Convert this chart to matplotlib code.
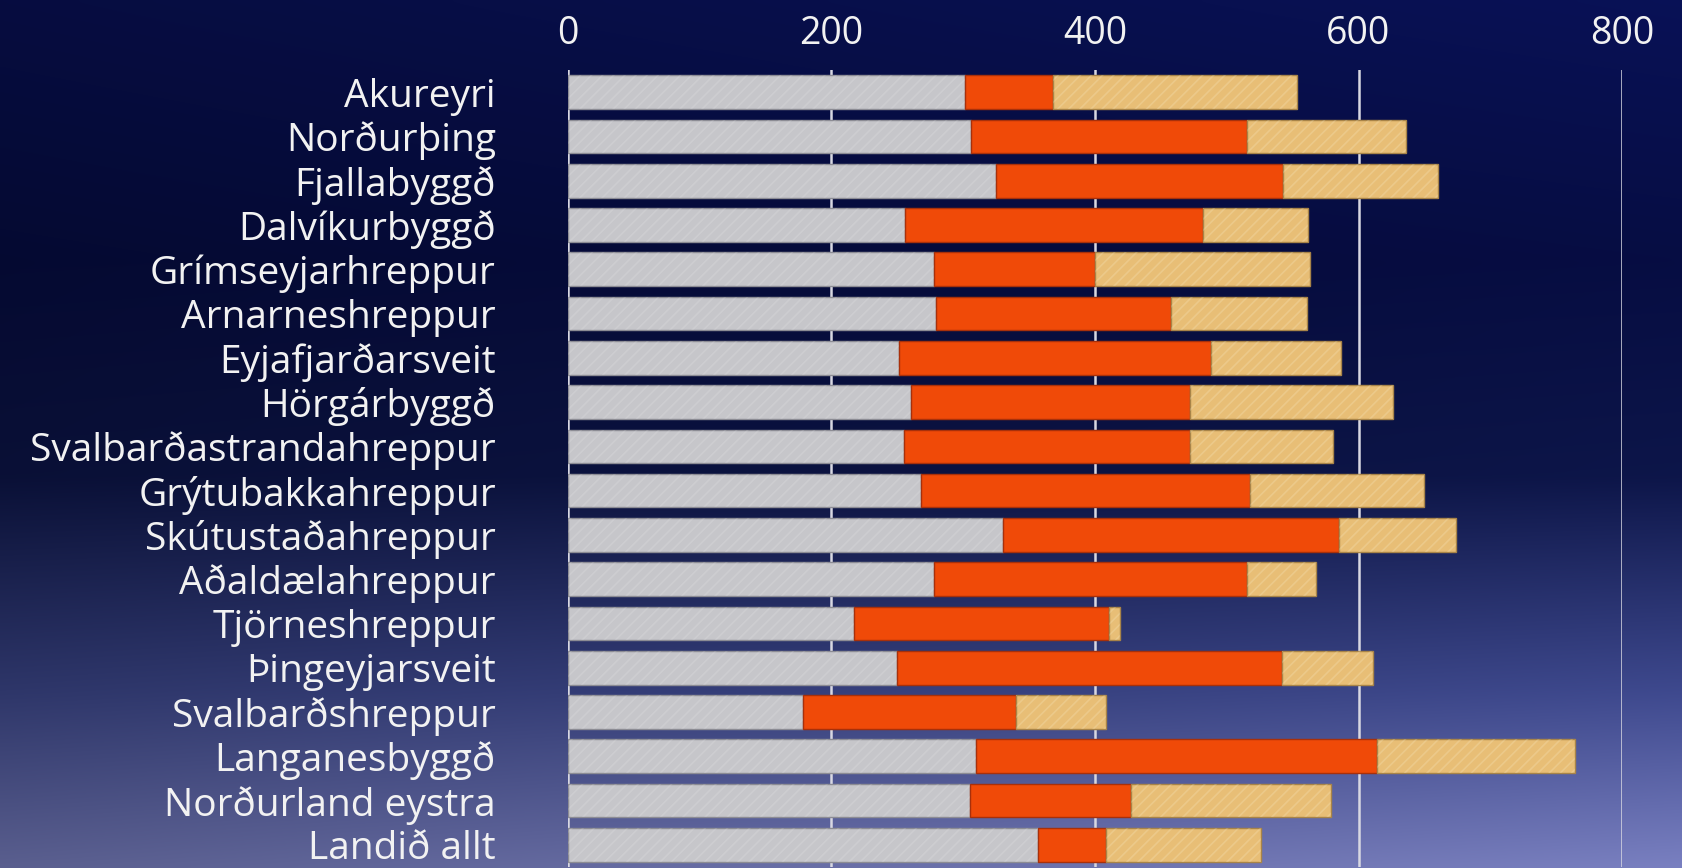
import numpy as np
import matplotlib
matplotlib.use("Agg")
import matplotlib.pyplot as plt

plt.rcParams['font.family'] = ['Open Sans', 'DejaVu Sans']
plt.rcParams['hatch.linewidth'] = 1.2

categories = ["Akureyri", "Norðurþing", "Fjallabyggð", "Dalvíkurbyggð",
              "Grímseyjarhreppur", "Arnarneshreppur", "Eyjafjarðarsveit",
              "Hörgárbyggð", "Svalbarðastrandahreppur", "Grýtubakkahreppur",
              "Skútustaðahreppur", "Aðaldælahreppur", "Tjörneshreppur",
              "Þingeyjarsveit", "Svalbarðshreppur", "Langanesbyggð",
              "Norðurland eystra", "Landið allt"]
grey_vals = [301, 306, 325, 256, 278, 279, 251, 260, 255, 268, 330, 278, 217, 250, 178, 310, 305, 357]
red_vals = [67, 209, 218, 226, 122, 179, 237, 212, 217, 250, 255, 237, 194, 292, 162, 304, 122, 51]
tan_vals = [185, 121, 117, 80, 163, 103, 99, 154, 109, 132, 89, 53, 8, 69, 68, 150, 152, 118]
x_ticks = [0, 200, 400, 600, 800]

W, H = 1683, 868
fig = plt.figure(figsize=(W / 100, H / 100), dpi=100)

# background gradient
bg = fig.add_axes([0, 0, 1, 1])
ny, nx = 200, 300
t = np.linspace(0, 1, ny)[:, None]
s = np.linspace(0, 1, nx)[None, :]
stops_t = [0.0, 0.3, 0.55, 0.8, 1.0]
stops_c = np.array([[8, 16, 80], [6, 12, 62], [12, 20, 68], [58, 68, 132], [112, 118, 178]]) / 255.0
img = np.zeros((ny, nx, 3))
for k in range(3):
    col = np.interp(t[:, 0], stops_t, stops_c[:, k])[:, None]
    img[:, :, k] = col * (0.8 + 0.28 * s)
img = np.clip(img, 0, 1)
bg.imshow(img, aspect='auto', extent=[0, 1, 0, 1], interpolation='bicubic')
bg.set_axis_off()
bg.set_zorder(-5)

ax = fig.add_axes([568 / W, 1 / H, 1054 / W, (867 - 70) / H])
ax.set_facecolor('none')
y = np.arange(len(categories))
g = np.array(grey_vals)
r = np.array(red_vals)
tn = np.array(tan_vals)
h = 0.76
ax.barh(y, g, height=h, color='#c6c6ca', edgecolor='#8c8c94', linewidth=1.0, zorder=3)
ax.barh(y, r, left=g, height=h, color='#f04a08', edgecolor='#a8300a', linewidth=1.0, zorder=3)
ax.barh(y, tn, left=g + r, height=h, color='#e8be76', edgecolor='#a88448', linewidth=1.0, zorder=3)
# brushed-metal streaks on grey and gold segments
ax.barh(y, g, height=h, facecolor='none', edgecolor=(1, 1, 1, 0.13),
        linewidth=0, hatch='///', zorder=4)
ax.barh(y, tn, left=g + r, height=h, facecolor='none', edgecolor=(1, 1, 0.9, 0.18),
        linewidth=0, hatch='///', zorder=4)

ax.set_xlim(0, 800)
ax.set_ylim(len(categories) - 0.5, -0.5)
ax.xaxis.tick_top()
ax.set_xticks(x_ticks)
ax.set_xticklabels([str(v) for v in x_ticks])
ax.set_yticks(y)
ax.set_yticklabels(categories)
ax.tick_params(axis='x', length=0, pad=12, labelsize=27, labelcolor='#f2f2f2')
ax.tick_params(axis='y', length=0, pad=52, labelsize=28, labelcolor='#f2f2f2')
ax.grid(axis='x', color='#d8d8e2', linewidth=1.8, zorder=1)
ax.grid(axis='y', visible=False)
ax.set_axisbelow(True)
for sp in ax.spines.values():
    sp.set_visible(False)

fig.savefig('out.png', dpi=100)
